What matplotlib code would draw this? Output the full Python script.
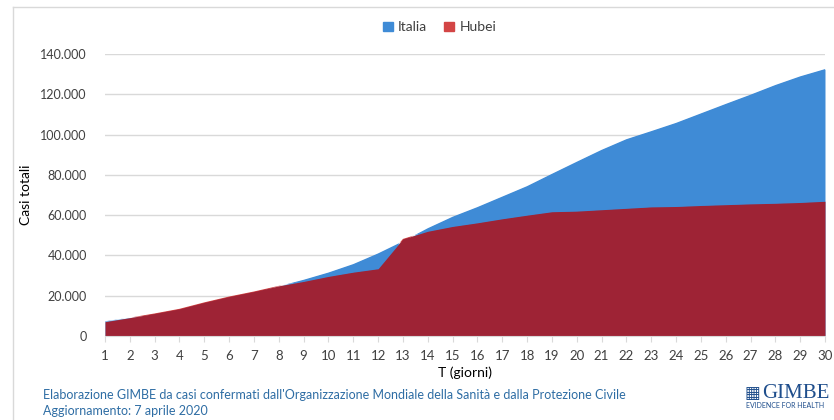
import matplotlib.pyplot as plt
from matplotlib.lines import Line2D
from matplotlib.patches import Patch
from matplotlib.ticker import FuncFormatter

plt.rcParams["font.family"] = ["Lato", "DejaVu Sans"]

# ---------------------------
# DATA
# ---------------------------
giorni = list(range(1, 31))
italia = [7300, 9100, 10500, 12500, 15200, 17700, 21200, 24700, 27900, 31500,
          35700, 41000, 47000, 53500, 59200, 64000, 69200, 74400, 80500, 86500,
          92400, 97700, 101700, 105800, 110500, 115200, 119800, 124600, 128900, 132500]
hubei = [7100, 9100, 11200, 13500, 16700, 19600, 22100, 24900, 27100, 29600,
         31700, 33400, 48200, 52000, 54400, 56200, 58200, 60000, 61700, 62000,
         62700, 63400, 64100, 64300, 64800, 65200, 65600, 65900, 66300, 66900]
yticks = [0, 20000, 40000, 60000, 80000, 100000, 120000, 140000]

c_blue = "#3F8BD6"
c_dark = "#9E2335"
c_light = "#D34545"
c_grid = "#D9D9D9"
c_text = "#404040"

fig = plt.figure(figsize=(8.34, 4.2), dpi=100)
ax = fig.add_axes([0.1259, 0.2, 0.8633, 0.6714])

ax.fill_between(giorni, 0, italia, color=c_blue, linewidth=0, zorder=2)
ax.fill_between(giorni, 0, hubei, color=c_dark, linewidth=0, zorder=3)
# where Hubei is above Italia the red is lighter (not overlapping blue)
ax.fill_between(giorni, italia, hubei, where=[h > i for h, i in zip(hubei, italia)],
                interpolate=True, color=c_light, linewidth=0, zorder=2.5)
ax.fill_between(giorni, italia, hubei, where=[i > h for h, i in zip(hubei, italia)],
                interpolate=True, color=c_blue, linewidth=0, zorder=3.5)

ax.set_xlim(1, 30)
ax.set_ylim(0, 140000)
ax.set_xticks(giorni)
ax.set_yticks(yticks)
ax.yaxis.set_major_formatter(FuncFormatter(lambda v, p: f"{int(v):,}".replace(",", ".")))
ax.grid(axis="y", color=c_grid, linewidth=1, zorder=1)
ax.set_axisbelow(True)

for s in ["top", "right", "left"]:
    ax.spines[s].set_visible(False)
ax.spines["bottom"].set_color(c_grid)
ax.spines["bottom"].set_zorder(5)
ax.tick_params(axis="y", length=0, labelsize=9, labelcolor=c_text, pad=13)
ax.tick_params(axis="x", length=4, color=c_grid, labelsize=9.5, labelcolor=c_text, pad=6)

ax.set_xlabel("T (giorni)", fontsize=10, color="black", labelpad=3)
ax.set_ylabel("Casi totali", fontsize=10, color="black")
ax.yaxis.set_label_coords(-0.101, 0.5)

handles = [Patch(color=c_blue, label="Italia"), Patch(color=c_light, label="Hubei")]
fig.legend(handles=handles, loc="center", bbox_to_anchor=(0.527, 0.935), ncol=2,
           frameon=False, fontsize=10, handlelength=0.7, handleheight=0.7,
           handletextpad=0.4, columnspacing=1.2, labelcolor=c_text)

# frame of the chart area (partly cropped in the source)
fig.add_artist(Line2D([13 / 834, 1], [1 - 7 / 420, 1 - 7 / 420], color=c_grid, lw=1))
fig.add_artist(Line2D([13 / 834, 13 / 834], [0, 1 - 7 / 420], color=c_grid, lw=1))

fig.text(43 / 834, 1 - 395 / 420,
         "Elaborazione GIMBE da casi confermati dall'Organizzazione Mondiale della Sanità e dalla Protezione Civile",
         fontsize=9, color="#2E6DA4", va="center")
fig.text(43 / 834, 1 - 411 / 420, "Aggiornamento: 7 aprile 2020",
         fontsize=9, color="#2E6DA4", va="center")

# GIMBE logo as text
fig.text(744 / 834, 1 - 393 / 420, "\u25a6", fontsize=12, color="#1F4E8C",
         va="center", ha="left", family="DejaVu Sans")
fig.text(762 / 834, 1 - 393 / 420, "GIMBE", fontsize=15, color="#1F4E8C",
         va="center", ha="left", family="Liberation Serif")
fig.text(746 / 834, 1 - 406 / 420, "EVIDENCE FOR HEALTH", fontsize=5, color="#1F4E8C",
         va="center", ha="left")

fig.savefig("out.png", dpi=100)
